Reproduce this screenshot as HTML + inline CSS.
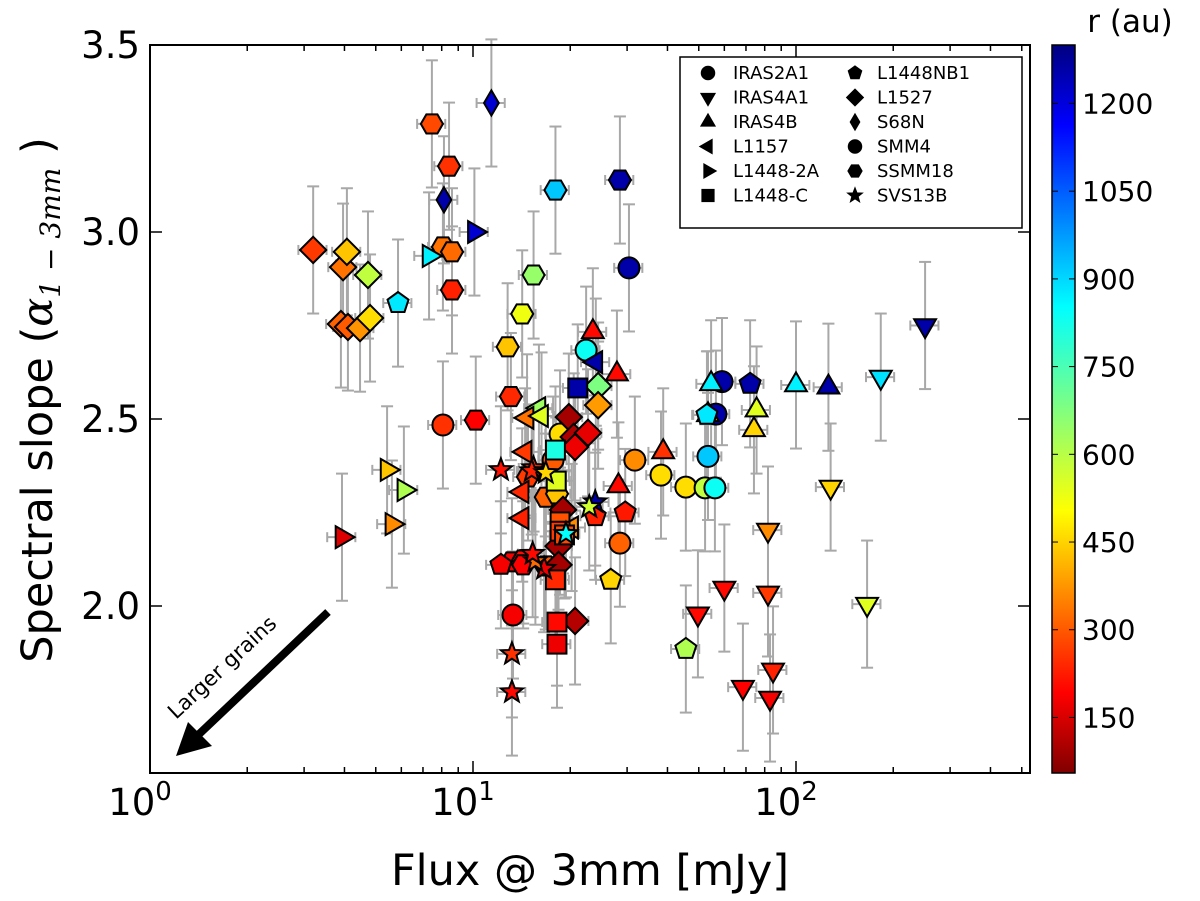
<!DOCTYPE html>
<html><head><meta charset="utf-8"><style>
body{margin:0;background:#fff}
svg{display:block;font-family:"DejaVu Sans","Liberation Sans",sans-serif}
</style></head><body>
<svg id="chart" width="1200" height="901" viewBox="0 0 1200 901">
<defs><linearGradient id="jet" x1="0" y1="1" x2="0" y2="0">
<stop offset="0" stop-color="#800000"/><stop offset="0.11" stop-color="#ff0000"/><stop offset="0.36" stop-color="#ffff00"/><stop offset="0.5" stop-color="#80ff80"/><stop offset="0.64" stop-color="#00ffff"/><stop offset="0.89" stop-color="#0000ff"/><stop offset="1" stop-color="#000080"/></linearGradient></defs>
<g id="errs"></g><g id="marks"></g><g id="axes"></g>
</svg>
<script>
const markers=["o","o","o","o","o","o","o","o","o","o","o","o","o","o","o",
"h","h","h","h","h","h","h","h","h","h","h","h","h","h","h","h","h","h","h",
"D","D","D","D","D","D","D","D","D","D","D","D","D","D","D","D","D","D",
"d","d",
">",">",">",">",">",">",
"<","<","<","<","<","<","<","<",
"^","^","^","^","^","^","^","^","^","^",
"v","v","v","v","v","v","v","v","v","v","v",
"s","s","s","s","s","s","s","s","s",
"p","p","p","p","p","p","p","p",
"*","*","*","*","*","*","*","*","*","*","*","*"];
const flux=[8.07,30.4,22.4,18.6,17.7,31.7,38.2,59.0,56.5,45.6,52.3,56.1,28.5,13.3,53.4,8.07,7.46,8.43,8.61,8.61,12.8,14.2,15.4,18.0,28.5,13.1,10.2,14.8,16.8,18.2,13.2,14.3,14.3,16.8,3.2,3.96,4.07,3.9,4.1,4.47,4.8,4.73,24.4,24.4,19.8,20.5,22.7,20.7,19.0,18.4,18.4,20.7,8.13,11.4,7.31,10.1,5.42,6.11,5.61,3.93,24.0,16.0,14.7,16.3,14.5,14.2,14.2,20.2,23.5,27.9,38.8,28.2,54.6,53.4,75.5,74.1,100,126,251,183,128,81.9,166,60.0,49.7,81.9,68.5,84.9,83.1,21.1,18.1,18.6,18.6,18.0,18.2,18.2,18.0,19.2,5.86,72.1,26.7,12.2,53.0,45.6,23.9,29.6,15.4,12.2,15.2,16.8,19.4,23.9,22.9,13.2,13.2,16.6,15.6,15.3];
const slope=[2.484,2.904,2.684,2.46,2.39,2.39,2.35,2.6,2.513,2.318,2.316,2.316,2.168,1.976,2.40,2.96,3.289,3.176,2.947,2.845,2.693,2.781,2.885,3.112,3.139,2.56,2.497,2.345,2.291,2.30,2.118,2.123,2.11,2.107,2.952,2.906,2.947,2.754,2.746,2.743,2.77,2.885,2.588,2.537,2.505,2.452,2.463,2.425,2.257,2.16,2.11,1.96,3.086,3.345,2.936,3.0,2.364,2.31,2.219,2.184,2.652,2.529,2.503,2.508,2.412,2.305,2.235,2.21,2.733,2.62,2.412,2.321,2.594,2.511,2.524,2.471,2.591,2.585,2.75,2.612,2.318,2.203,2.005,2.048,1.979,2.035,1.783,1.829,1.754,2.583,2.334,2.225,2.2,2.07,1.957,1.898,2.417,2.19,2.81,2.594,2.07,2.11,2.511,1.885,2.24,2.25,2.369,2.364,2.361,2.356,2.193,2.278,2.265,1.872,1.77,2.10,2.12,2.14];
const radius=[270,1250,820,480,320,380,480,1250,1250,480,600,820,330,200,900,350,300,270,340,250,450,540,650,900,1250,260,210,280,330,450,200,220,210,320,280,350,450,330,320,390,480,600,680,400,100,110,180,190,100,100,100,120,1250,1200,850,1200,450,620,380,170,1250,640,350,560,280,260,250,380,220,220,270,220,850,380,560,470,850,1250,1250,870,470,380,560,220,220,280,210,250,200,1250,560,310,280,260,220,190,800,300,860,1250,470,200,860,620,250,240,260,230,250,470,830,1250,580,270,220,190,340,220,240];
const yTicks=[2.0,2.5,3.0,3.5];
const cbTicks=[150,300,450,600,750,900,1050,1200];
const legendNames=["IRAS2A1","IRAS4A1","IRAS4B","L1157","L1448-2A","L1448-C","L1448NB1","L1527","S68N","SMM4","SSMM18","SVS13B"];
const legendMarkers=["o","v","^","<",">","s","p","D","d","o","h","*"];

const L=150,R=1030,T=45,B=773;
const xs=v=>L+Math.log10(v)*323;
const ys=v=>606-(v-2)*374;
const RMIN=55,RMAX=1300;
const NS="http://www.w3.org/2000/svg";
function jet(r){let t=1-Math.max(0,Math.min(1,(r-RMIN)/(RMAX-RMIN)));
 const f=x=>Math.max(0,Math.min(1,1.5-Math.abs(4*t-x)));
 return `rgb(${Math.round(255*f(3))},${Math.round(255*f(2))},${Math.round(255*f(1))})`;}
function el(tag,attrs,parent){const e=document.createElementNS(NS,tag);for(const k in attrs)e.setAttribute(k,attrs[k]);parent.appendChild(e);return e;}
function poly(n,rad,rot){let p=[];for(let i=0;i<n;i++){const a=rot+i*2*Math.PI/n;p.push((rad*Math.cos(a)).toFixed(2)+","+(rad*Math.sin(a)).toFixed(2));}return p.join(" ");}
function star(rad){let p=[];for(let i=0;i<10;i++){const a=-Math.PI/2+i*Math.PI/5;const rr=i%2?rad*0.42:rad;p.push((rr*Math.cos(a)).toFixed(2)+","+(rr*Math.sin(a)).toFixed(2));}return p.join(" ");}
function marker(m,cx,cy,s,fill,parent){
 const g=el("g",{transform:`translate(${cx},${cy})`,fill:fill,stroke:"#000","stroke-width":s>8?2:1.5},parent);
 const k=s;
 if(m==="o")el("circle",{r:k},g);
 else if(m==="s")el("rect",{x:-k*0.9,y:-k*0.9,width:k*1.8,height:k*1.8},g);
 else if(m==="h")el("polygon",{points:poly(6,k*1.05,0)},g);
 else if(m==="p")el("polygon",{points:poly(5,k*1.05,-Math.PI/2)},g);
 else if(m==="D")el("polygon",{points:`0,${-k*1.25} ${k*1.25},0 0,${k*1.25} ${-k*1.25},0`},g);
 else if(m==="d")el("polygon",{points:`0,${-k*1.2} ${k*0.7},0 0,${k*1.2} ${-k*0.7},0`},g);
 else if(m==="*")el("polygon",{points:star(k*1.1)},g);
 else{const rot={"^":-Math.PI/2,"v":Math.PI/2,"<":Math.PI,">":0}[m];el("polygon",{points:poly(3,k*1.2,rot)},g);}
 return g;}
const svg=document.getElementById("chart");
const E=document.getElementById("errs"),M=document.getElementById("marks"),A=document.getElementById("axes");
for(let i=0;i<flux.length;i++){
 const x=xs(flux[i]),y=ys(slope[i]),dy=0.17*374,x1=xs(flux[i]*0.9),x2=xs(flux[i]*1.1);
 const g=el("g",{stroke:"#a8a8a8","stroke-width":2},E);
 
 
 el("line",{x1:x,y1:y-dy,x2:x,y2:y+dy},g);
 el("line",{x1:x-6,y1:y-dy,x2:x+6,y2:y-dy},g);el("line",{x1:x-6,y1:y+dy,x2:x+6,y2:y+dy},g);
 el("line",{x1:x1,y1:y,x2:x2,y2:y},g);
 el("line",{x1:x1,y1:y-5,x2:x1,y2:y+5},g);el("line",{x1:x2,y1:y-5,x2:x2,y2:y+5},g);
}
for(let i=0;i<flux.length;i++){
 const g=marker(markers[i],xs(flux[i]),ys(slope[i]),10.5,jet(radius[i]),M);
 
 
}
const fr=el("rect",{x:L,y:T,width:R-L,height:B-T,fill:"none",stroke:"#000","stroke-width":2},A);


for(const v of yTicks){const y=ys(v);
 el("line",{x1:L,y1:y,x2:L+12,y2:y,stroke:"#000","stroke-width":1.5},A);
 el("line",{x1:R,y1:y,x2:R-12,y2:y,stroke:"#000","stroke-width":1.5},A);
 const t=el("text",{x:L-10,y:y+13,"text-anchor":"end","font-size":37},A);t.textContent=v.toFixed(1);
 
 }
for(let d=0;d<3;d++){for(let k=1;k<10;k++){const v=Math.pow(10,d)*k;const x=xs(v);if(x>R)break;
 const len=k===1?12:6;
 el("line",{x1:x,y1:B,x2:x,y2:B-len,stroke:"#000","stroke-width":1.5},A);
 el("line",{x1:x,y1:T,x2:x,y2:T+len,stroke:"#000","stroke-width":1.5},A);
 if(k===1){const t=el("text",{x:x-10,y:B+42,"text-anchor":"middle","font-size":37},A);
  t.textContent="10";const s=el("tspan",{dy:-15,"font-size":26},t);s.textContent=String(d);
  
  }}}
let t=el("text",{x:590,y:885,"text-anchor":"middle","font-size":43},A);t.textContent="Flux @ 3mm [mJy]";


t=el("text",{x:0,y:0,"text-anchor":"middle","font-size":43,transform:"translate(52,400) rotate(-90)"},A);
t.textContent="Spectral slope (";
let ts=el("tspan",{"font-style":"italic","font-family":"DejaVu Serif, serif"},t);ts.textContent="α";
ts=el("tspan",{dy:8,"font-size":28,"font-style":"italic","font-family":"DejaVu Serif, serif"},t);ts.textContent="1 − 3mm";
ts=el("tspan",{dy:-8},t);ts.textContent=" )";


const ar=el("g",{},A);


el("line",{x1:328,y1:612,x2:196,y2:737,stroke:"#000","stroke-width":8},ar);
el("polygon",{points:"176,756 188,722 212,746"},ar);
t=el("text",{x:0,y:0,"font-size":21,transform:"translate(176,720) rotate(-43)"},A);t.textContent="Larger grains";


const lg=el("g",{},A);


el("rect",{x:680,y:57,width:342,height:171,fill:"#fff",stroke:"#000","stroke-width":1.5},lg);
for(let i=0;i<legendNames.length;i++){const col=i<6?0:1,row=i%6;const x=col?855:708,y=73+row*24.5;
 const e=el("g",{},lg);
 
 
 marker(legendMarkers[i],x,y,6.5,"#000",e);
 const tx=el("text",{x:col?877:733,y:y+6,"font-size":18},e);tx.textContent=legendNames[i];}
const cb=el("g",{},A);


el("rect",{x:1052,y:T,width:23,height:B-T,fill:"url(#jet)",stroke:"#000","stroke-width":1.5},cb);
const cy=v=>B-(v-RMIN)/(RMAX-RMIN)*(B-T);
for(const v of cbTicks){const y=cy(v);
 el("line",{x1:1052,y1:y,x2:1058,y2:y,stroke:"#000"},cb);el("line",{x1:1075,y1:y,x2:1069,y2:y,stroke:"#000"},cb);
 const tx=el("text",{x:1082,y:y+10,"font-size":28},cb);tx.textContent=v;}
t=el("text",{x:1130,y:32,"text-anchor":"middle","font-size":31},cb);t.textContent="r (au)";
</script>
</body></html>
